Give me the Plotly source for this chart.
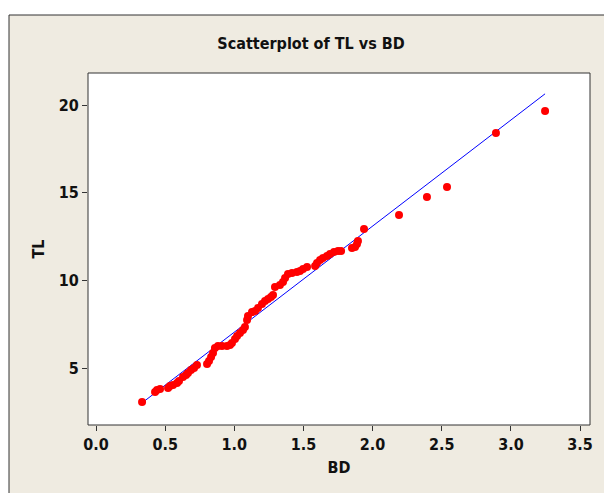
import numpy as np
import plotly.graph_objects as go

BD = [0.333, 0.427, 0.441, 0.463, 0.521, 0.535, 0.557, 0.586, 0.600, 0.629,
      0.651, 0.665, 0.687, 0.709, 0.730, 0.803, 0.817, 0.832, 0.846, 0.860,
      0.882, 0.911, 0.947, 0.969, 0.983, 1.005, 1.020, 1.041, 1.063, 1.077,
      1.092, 1.099, 1.128, 1.150, 1.171, 1.200, 1.222, 1.244, 1.265, 1.280,
      1.294, 1.330, 1.352, 1.367, 1.388, 1.417, 1.453, 1.475, 1.497, 1.526,
      1.584, 1.598, 1.620, 1.641, 1.670, 1.692, 1.721, 1.750, 1.772, 1.851,
      1.873, 1.887, 1.894, 1.938, 2.191, 2.393, 2.538, 2.892, 3.247]
TL = [3.06, 3.63, 3.74, 3.80, 3.86, 3.97, 4.03, 4.14, 4.26, 4.49,
      4.60, 4.71, 4.89, 5.00, 5.17, 5.23, 5.40, 5.63, 5.86, 6.14,
      6.25, 6.25, 6.25, 6.31, 6.43, 6.65, 6.83, 7.00, 7.17, 7.34,
      7.74, 7.97, 8.19, 8.25, 8.42, 8.65, 8.82, 8.94, 9.05, 9.16,
      9.62, 9.73, 9.91, 10.13, 10.36, 10.42, 10.48, 10.53, 10.65, 10.76,
      10.82, 10.99, 11.16, 11.27, 11.39, 11.50, 11.62, 11.67, 11.67, 11.85,
      11.90, 12.07, 12.24, 12.93, 13.73, 14.75, 15.33, 18.41, 19.66]

x_ticks = [0.0, 0.5, 1.0, 1.5, 2.0, 2.5, 3.0, 3.5]
x_tick_labels = ["0.0", "0.5", "1.0", "1.5", "2.0", "2.5", "3.0", "3.5"]
y_ticks = [5, 10, 15, 20]
y_tick_labels = ["5", "10", "15", "20"]

# Least-squares fit line across the data range
slope, intercept = np.polyfit(BD, TL, 1)
fit_x = [min(BD), max(BD)]
fit_y = [intercept + slope * v for v in fit_x]

FONT = "DejaVu Sans Condensed"
W, H = 612, 493
OFF = 8  # page body margin
L, R, T, B = 88 - OFF, 612 - 590 + OFF, 73 - OFF, 493 - 425 + OFF
pw, ph = W - L - R, H - T - B

fig = go.Figure()
fig.add_trace(go.Scatter(x=fit_x, y=fit_y, mode="lines",
                         line=dict(color="#0000FF", width=1), hoverinfo="skip",
                         showlegend=False))
fig.add_trace(go.Scatter(x=BD, y=TL, mode="markers",
                         marker=dict(color="#FF0000", size=8, line=dict(width=0)),
                         showlegend=False))

bg = "#EFEBE1"
fig.add_shape(type="rect", xref="paper", yref="paper", layer="below",
              x0=(9 - OFF - L) / pw, x1=(W + 20 - L) / pw,
              y0=-(H + 20 - T - ph) / ph, y1=1 + (T - (15 - OFF)) / ph,
              fillcolor=bg, line=dict(color="#333333", width=1))
fig.add_shape(type="rect", xref="paper", yref="paper", layer="below",
              x0=0, x1=1, y0=0, y1=1,
              fillcolor="white", line=dict(color="#333333", width=1))

tick_font = dict(family=FONT, size=16, color="#111111", weight="bold")
axis_common = dict(showgrid=False, zeroline=False, ticks="outside", ticklen=5,
                   tickwidth=1, tickcolor="#333333", showline=False,
                   tickfont=tick_font)

fig.update_xaxes(range=[-0.058, 3.572], tickvals=x_ticks, ticktext=x_tick_labels,
                 title=dict(text="<b>BD</b>", font=dict(family=FONT, size=16, color="#111111"),
                            standoff=8),
                 **axis_common)
fig.update_yaxes(range=[1.75, 21.83], tickvals=y_ticks, ticktext=y_tick_labels,
                 title=dict(text="<b>TL</b>", font=dict(family=FONT, size=16, color="#111111"),
                            standoff=10),
                 **axis_common)

fig.update_layout(
    width=W, height=H,
    margin=dict(l=L, r=R, t=T, b=B, autoexpand=False),
    paper_bgcolor="white", plot_bgcolor="rgba(0,0,0,0)",
    title=dict(text="<b>Scatterplot of TL vs BD</b>", x=(311 - OFF) / W, xanchor="center",
               y=1 - (43 - OFF) / H, yanchor="middle",
               font=dict(family=FONT, size=16, color="#111111")),
)

fig.write_html("out.html")
